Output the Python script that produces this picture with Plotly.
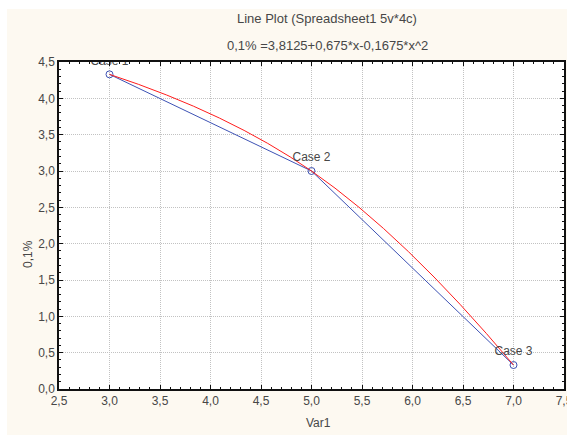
import plotly.graph_objects as go

# ---- data ----
var1 = [3.0, 5.0, 7.0]
pct = [4.33, 3.0, 0.33]
case_labels = ["Case 1", "Case 2", "Case 3"]
x_tickvals = [2.5, 3.0, 3.5, 4.0, 4.5, 5.0, 5.5, 6.0, 6.5, 7.0, 7.5]
x_ticktext = ["2,5", "3,0", "3,5", "4,0", "4,5", "5,0", "5,5", "6,0", "6,5", "7,0", "7,5"]
y_tickvals = [0.0, 0.5, 1.0, 1.5, 2.0, 2.5, 3.0, 3.5, 4.0, 4.5]
y_ticktext = ["0,0", "0,5", "1,0", "1,5", "2,0", "2,5", "3,0", "3,5", "4,0", "4,5"]
title_text = "Line Plot (Spreadsheet1 5v*4c)"
subtitle_text = "0,1% =3,8125+0,675*x-0,1675*x^2"
x_title = "Var1"
y_title = "0,1%"

W, H = 567, 435
L, R, T, B = 59, 3, 62, 46
PW, PH = W - L - R, H - T - B

def px_x(p):
    return (p - L) / PW

def px_y(p):
    return (H - B - p) / PH

FONT = "Liberation Sans, Arial, Helvetica, sans-serif"
TXT = "#474747"
BLUE = "#3d52b4"
RED = "#ff1c1c"

fig = go.Figure()

fig.add_trace(go.Scatter(
    x=var1, y=pct, mode="lines+markers",
    line=dict(color=BLUE, width=1),
    marker=dict(symbol="circle-open", size=7, color=BLUE, line=dict(width=1, color=BLUE)),
    hoverinfo="skip", showlegend=False,
))
fig.add_trace(go.Scatter(
    x=var1, y=pct, mode="lines",
    line=dict(color=RED, width=1, shape="spline", smoothing=1.3),
    hoverinfo="skip", showlegend=False,
))
fig.add_trace(go.Scatter(
    x=var1, y=pct, mode="markers+text", text=case_labels,
    marker=dict(size=9, color="rgba(0,0,0,0)"),
    textposition="top center", cliponaxis=True,
    textfont=dict(family=FONT, size=12, color=TXT),
    hoverinfo="skip", showlegend=False,
))

axis_common = dict(
    showline=True, mirror="ticks", linecolor="#111111", linewidth=1.5,
    showgrid=True, gridcolor="#c2c2c2", griddash="1px,1px", gridwidth=1,
    zeroline=False, ticks="inside", ticklen=4, tickcolor="#111111",
    tickfont=dict(family=FONT, size=12, color=TXT),
    ticklabeloverflow="allow", automargin=False,
)

fig.update_xaxes(
    range=[2.5, 7.5], tickmode="array", tickvals=x_tickvals, ticktext=x_ticktext,
    minor=dict(dtick=0.1, ticks="inside", ticklen=2, tickcolor="#111111", showgrid=False),
    **axis_common,
)
fig.update_yaxes(
    range=[0, 4.5], tickmode="array", tickvals=y_tickvals, ticktext=y_ticktext,
    minor=dict(dtick=0.1, ticks="inside", ticklen=2, tickcolor="#111111", showgrid=False),
    **axis_common,
)

annotations = [
    dict(text=title_text, x=px_x(327), y=px_y(19), xref="paper", yref="paper",
         showarrow=False, xanchor="center", yanchor="middle",
         font=dict(family=FONT, size=13, color=TXT)),
    dict(text=subtitle_text, x=px_x(327), y=px_y(46), xref="paper", yref="paper",
         showarrow=False, xanchor="center", yanchor="middle",
         font=dict(family=FONT, size=13, color=TXT)),
    dict(text=x_title, x=px_x(318), y=px_y(423), xref="paper", yref="paper",
         showarrow=False, xanchor="center", yanchor="middle",
         font=dict(family=FONT, size=12, color=TXT)),
    dict(text=y_title, x=px_x(28), y=px_y(254), xref="paper", yref="paper",
         showarrow=False, xanchor="center", yanchor="middle", textangle=-90,
         font=dict(family=FONT, size=12, color=TXT)),
]

shapes = [
    dict(type="rect", xref="paper", yref="paper", x0=px_x(-5), x1=px_x(7),
         y0=px_y(H + 5), y1=px_y(-5), fillcolor="white", line=dict(width=0), layer="below"),
    dict(type="rect", xref="paper", yref="paper", x0=px_x(-5), x1=px_x(W + 5),
         y0=px_y(9), y1=px_y(-5), fillcolor="white", line=dict(width=0), layer="below"),
]

fig.update_layout(
    width=W, height=H,
    margin=dict(l=L, r=R, t=T, b=B, autoexpand=False),
    paper_bgcolor="#fdf9f1", plot_bgcolor="white",
    annotations=annotations, shapes=shapes,
    font=dict(family=FONT, color=TXT),
    showlegend=False,
)

fig.write_html("out.html")
